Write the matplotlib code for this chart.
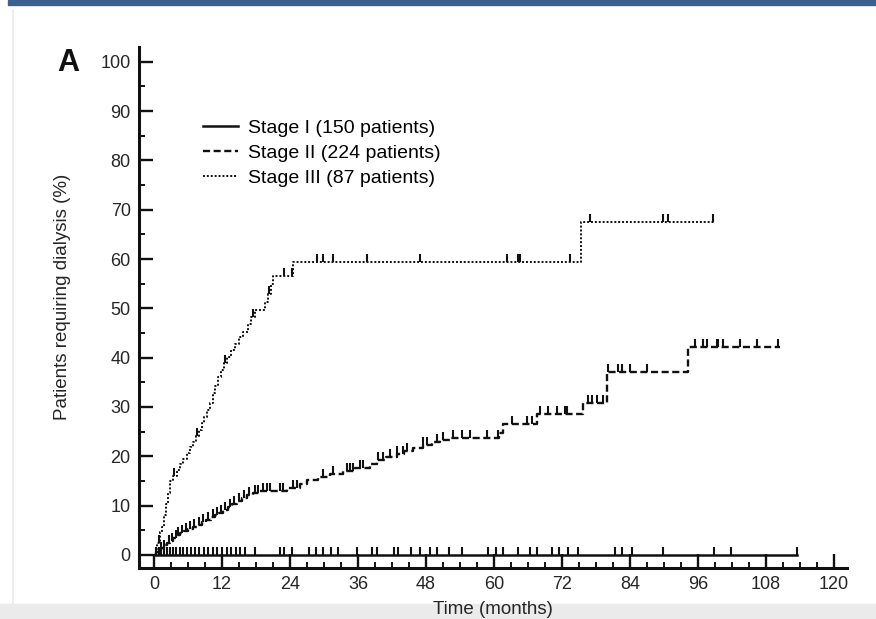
'''
Cumulative incidence of dialysis by stage - recreated figure (panel A)
'''
import numpy as np
import matplotlib
matplotlib.use('Agg')
from matplotlib import pyplot as plt
from matplotlib.patches import Rectangle

#############################################
#CHART TEMPLATE
plot_theme = {'font.family': ['Liberation Sans', 'DejaVu Sans'],
              'xtick.labelsize': 13,
              'ytick.labelsize': 13,
              'axes.labelsize': 13.5,
              'legend.fontsize': 14,
              'figure.dpi': 100}
matplotlib.rcParams.update(plot_theme)
#############################################

#############################################
#Data (months, % requiring dialysis)
stage1_t = [0, 113.4]
stage1_y = [0, 0]
stage1_cens = [0.3, 0.8, 1.3, 1.8, 2.3, 2.8, 3.3, 3.9, 4.5, 5.1, 5.8, 6.5, 7.2,
               8.0, 8.8, 9.6, 10.4, 11.2, 12.0, 12.8, 13.6, 14.4, 15.2, 16.0,
               17.9, 22.2, 23.0, 24.3, 27.3, 28.6, 29.9, 31.2, 32.4, 35.9, 38.4,
               39.3, 42.3, 43.1, 45.3, 47.0, 48.7, 50.0, 52.1, 54.3, 59.0, 60.3,
               61.6, 64.2, 66.3, 67.6, 70.2, 71.4, 73.1, 74.9, 81.3, 82.6, 84.3,
               89.8, 98.8, 101.8, 113.4]

stage2_t = [0, 0.3, 0.8, 1.3, 1.8, 2.3, 2.8, 3.4, 4.0, 4.6, 5.3, 6.0, 6.8, 7.6,
            8.4, 9.2, 10.0, 10.8, 11.5, 12.2, 13.0, 13.8, 14.6, 15.5, 16.4,
            17.5, 18.7, 23.5, 25.8, 27.0, 29.0, 31.0, 33.4, 35.5, 38.2, 39.4,
            41.0, 42.8, 44.2, 45.7, 47.5, 49.0, 50.5, 52.2, 60.8, 61.6, 67.6,
            75.7, 79.9, 94.3, 110.5]
stage2_y = [0, 0.5, 1.0, 1.5, 2.0, 2.5, 2.9, 3.4, 4.0, 4.5, 4.9, 5.3, 5.7, 6.1,
            6.6, 7.1, 7.6, 8.1, 8.6, 9.2, 9.8, 10.4, 11.0, 11.6, 12.2, 12.6,
            12.9, 13.5, 14.4, 15.2, 15.8, 16.4, 17.0, 17.6, 18.4, 19.3, 19.9,
            20.5, 21.0, 21.6, 22.2, 22.8, 23.3, 23.8, 24.8, 26.6, 28.6, 30.8,
            37.0, 42.2, 42.2]
stage2_cens = [1.2, 1.7, 2.6, 3.1, 3.8, 4.3, 5.0, 5.6, 6.3, 7.1, 7.9, 8.7, 9.6,
               10.4, 11.2, 11.9, 12.6, 13.4, 14.2, 15.0, 15.9, 16.8, 17.9, 18.4,
               19.3, 19.9, 20.5, 22.2, 22.8, 24.5, 25.2, 29.8, 31.6, 34.0, 34.6,
               35.1, 36.4, 36.9, 39.5, 40.4, 41.6, 42.9, 43.9, 44.6, 47.5, 48.2,
               49.9, 51.0, 52.8, 54.3, 55.8, 58.8, 60.7, 63.2, 65.8, 66.7, 68.1,
               69.5, 71.1, 72.5, 72.9, 76.6, 77.3, 78.2, 79.2, 80.1, 81.9, 82.6,
               84.0, 87.0, 95.5, 96.9, 97.6, 99.3, 99.5, 100.4, 103.4, 106.4, 110.1]

stage3_t = [0, 0.3, 0.6, 1.0, 1.4, 1.8, 2.1, 2.5, 2.9, 3.4, 4.0, 4.6, 5.2, 5.8,
            6.4, 6.9, 7.4, 7.9, 8.4, 8.9, 9.4, 9.9, 10.4, 10.8, 11.3, 11.8,
            12.4, 12.9, 13.6, 14.3, 15.0, 15.7, 16.5, 17.2, 17.8, 19.6, 20.1,
            20.6, 21.0, 24.6, 75.3, 99.0]
stage3_y = [0, 1.2, 2.4, 4.6, 5.7, 8.0, 10.3, 12.6, 14.9, 16.0, 17.2, 18.4,
            19.5, 20.7, 21.8, 23.0, 24.2, 25.4, 26.8, 28.0, 29.4, 30.8, 32.8,
            34.2, 36.0, 37.5, 39.0, 40.2, 41.5, 42.8, 44.1, 45.3, 46.8, 48.2,
            49.7, 51.2, 53.0, 55.0, 56.6, 59.5, 67.5, 67.5]
stage3_cens = [0.8, 3.6, 7.6, 12.6, 17.4, 20.3, 23.0, 24.3, 28.8, 29.8, 31.6,
               37.6, 46.9, 62.3, 64.2, 64.6, 73.4, 76.9, 89.8, 90.7, 98.6]

labels = ['Stage I (150 patients)', 'Stage II (224 patients)',
          'Stage III (87 patients)']
x_ticks = np.arange(0, 121, 12)
y_ticks = np.arange(0, 101, 10)
#############################################

#############################################
#Helper - level of a step curve at censor times
def step_level(t, y, c):
    idx = np.searchsorted(np.array(t), np.array(c), side='right') - 1
    return np.array(y)[idx]
#############################################

#############################################
#Make the plot
fig = plt.figure(figsize=(8.76, 6.19), dpi=100)

#Page furniture from the scan (behind everything)
fig.patches.append(Rectangle((8/876, 1 - 5/619), 1, 5/619,
                             transform=fig.transFigure, color='#3b5f8e',
                             zorder=-5))
fig.patches.append(Rectangle((0, 0), 1, 15/619, transform=fig.transFigure,
                             color='#ebebeb', zorder=-5))
fig.lines.append(plt.Line2D([13/876, 13/876], [15/619, 1 - 10/619],
                            transform=fig.transFigure, color='#ededed',
                            linewidth=1.5, zorder=-5))

ax = fig.add_axes([139/876, 51/619, 708/876, 521/619])
ax.patch.set_alpha(0)
ax.set_zorder(2)

ink = '#111111'
txt = '#262626'
styles = [dict(linestyle='-', linewidth=1.8),
          dict(linestyle=(0, (3.0, 1.5)), linewidth=1.7),
          dict(linestyle=(0, (1.0, 1.0)), linewidth=1.4)]
curves = [(stage1_t, stage1_y, stage1_cens),
          (stage2_t, stage2_y, stage2_cens),
          (stage3_t, stage3_y, stage3_cens)]

for (t, y, c), st, lab in zip(curves, styles, labels):
    ax.step(t, y, where='post', color=ink, label=lab, **st)
    ax.plot(c, step_level(t, y, c), linestyle='none', marker=2,
            markersize=6, markeredgewidth=1.5, color=ink)

ax.set_xlim(-2.65, 122.3)
ax.set_ylim(-2.65, 103)
ax.set_xticks(x_ticks)
ax.set_yticks(y_ticks)
ax.set_xticks(np.arange(0, 121, 3), minor=True)
ax.set_yticks(np.arange(0, 101, 5), minor=True)
ax.tick_params(which='major', direction='in', length=10, width=1.7,
               color=ink, labelcolor=txt, pad=6)
ax.tick_params(which='minor', direction='in', length=4.5, width=1.4, color=ink)
for s in ['top', 'right']:
    ax.spines[s].set_visible(False)
for s in ['left', 'bottom']:
    ax.spines[s].set_linewidth(2.2)
    ax.spines[s].set_color(ink)

ax.set_ylabel('Patients requiring dialysis (%)', color=txt)
ax.yaxis.set_label_coords(-0.096, 0.52)
ax.set_xlabel('Time (months)', color=txt)
ax.xaxis.set_label_coords(0.5, -0.064)

ax.legend(loc='upper left', bbox_to_anchor=(0.091, 0.862), frameon=False,
          borderpad=0, borderaxespad=0, handlelength=1.8, handletextpad=0.5,
          labelspacing=0.38)

fig.text(57/876, 1 - 63/619, 'A', fontsize=22, fontweight='bold',
         va='center', ha='left', color=ink)

plt.savefig('out.png', dpi=100)
#############################################
